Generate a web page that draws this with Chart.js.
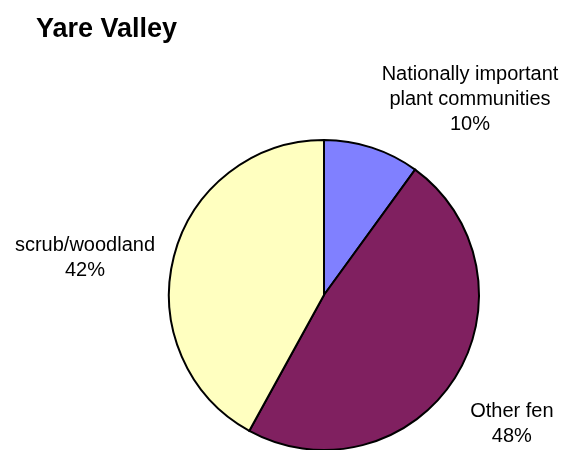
<!DOCTYPE html>
<html>
<head>
<meta charset="utf-8">
<script src="https://cdn.jsdelivr.net/npm/chart.js@4"></script>
<style>
html,body{margin:0;padding:0;background:#fff;overflow:hidden;}
canvas{display:block;}
</style>
</head>
<body>
<canvas id="c" width="566" height="460"></canvas>
<script>
const chartTitle = "Yare Valley";
const categories = [["Nationally important", "plant communities"], ["Other fen"], ["scrub/woodland"]];
const values = [10, 48, 42];
const colors = ["#8080FF", "#802060", "#FFFFC0"];
// label placement relative to pie centre, in units of pie radius (layout only)
const labelOffsets = [[0.942, -1.224], [1.212, 0.869], [-1.542, -0.205]];

const labelPlugin = {
  id: 'labels',
  afterDraw(chart) {
    const ctx = chart.ctx;
    const meta = chart.getDatasetMeta(0);
    const total = values.reduce((a, b) => a + b, 0);
    ctx.save();
    ctx.fillStyle = '#000';
    ctx.textAlign = 'center';
    ctx.textBaseline = 'alphabetic';
    ctx.font = '20px "Liberation Sans", Arial, sans-serif';
    meta.data.forEach((arc, i) => {
      const p = arc.getProps(['x', 'y', 'outerRadius'], true);
      const cx = p.x + labelOffsets[i][0] * p.outerRadius;
      const cy = p.y + labelOffsets[i][1] * p.outerRadius;
      const lines = categories[i].concat([Math.round(values[i] / total * 100) + '%']);
      const lh = 25;
      const y0 = cy - (lines.length - 1) * lh / 2;
      lines.forEach((t, k) => ctx.fillText(t, cx, y0 + k * lh));
    });
    ctx.textAlign = 'left';
    ctx.font = 'bold 27px "Liberation Sans", Arial, sans-serif';
    ctx.fillText(chartTitle, 36, 37);
    ctx.restore();
  }
};

new Chart(document.getElementById('c'), {
  type: 'pie',
  data: {
    labels: categories.map(c => c.join(' ')),
    datasets: [{
      data: values,
      backgroundColor: colors,
      borderColor: '#000',
      borderWidth: 2,
      borderJoinStyle: 'miter'
    }]
  },
  options: {
    responsive: false,
    animation: false,
    devicePixelRatio: 1,
    layout: { padding: { top: 139, bottom: 9, left: 168, right: 86 } },
    plugins: {
      legend: { display: false },
      tooltip: { enabled: false },
      title: { display: false }
    }
  },
  plugins: [labelPlugin]
});
</script>
</body>
</html>
